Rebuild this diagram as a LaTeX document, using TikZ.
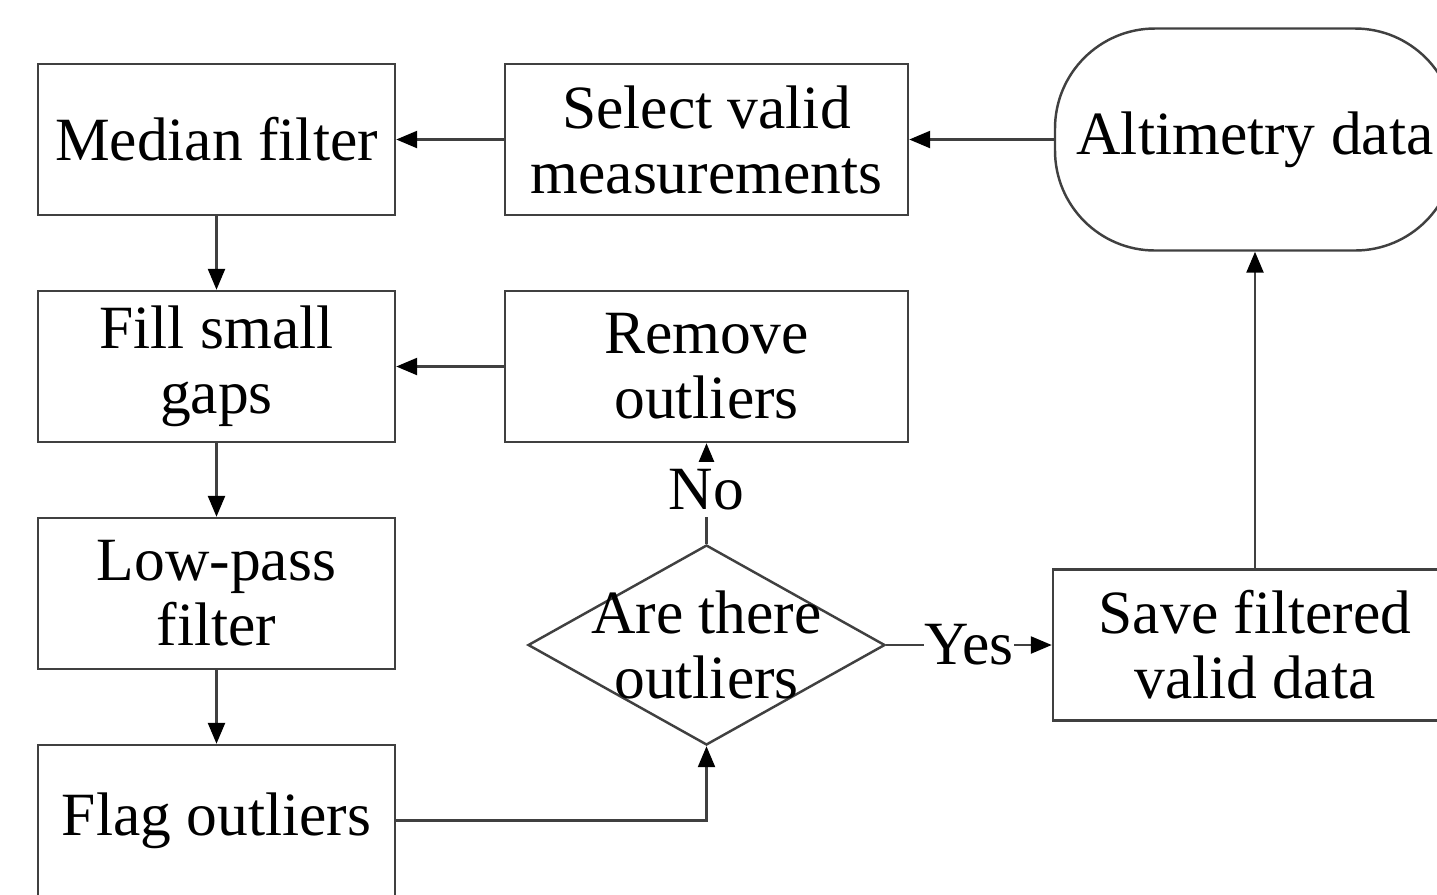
\documentclass[tikz,border=0pt]{standalone}
\usepackage{fontspec}
\setmainfont{Liberation Serif}
\usetikzlibrary{shapes.geometric}
\usetikzlibrary{arrows.meta}

\tikzset{
  txt/.style={align=center, font=\fontsize{17.5}{18.5}\selectfont},
  box/.style={txt, draw=black!75, line width=0.7pt, minimum width=3.57cm, minimum height=1.51cm, inner sep=0pt},
  terminal/.style={box, rounded corners=1cm, minimum width=4cm, minimum height=2.22cm},
  decision/.style={draw=black!75, line width=0.7pt, diamond, aspect=1.785, minimum width=3.57cm, minimum height=2cm, inner sep=0pt},
  arr/.style={draw=black!75, line width=0.7pt, -{Triangle[length=0.21cm, width=0.17cm, black]}},
  lbl/.style={txt, fill=white, inner xsep=0pt, inner ysep=2pt}
}

\begin{document}
\begin{tikzpicture}
\useasboundingbox (0,0) rectangle (14.37,-8.94);
\clip (0,0) rectangle (14.37,-8.94);

% top row
\node[box] (median) at (2.165,-1.395) {Median filter};
\node[box, minimum width=4.03cm] (select) at (7.065,-1.395) {Select valid\\measurements};
\node[terminal] (alti) at (12.55,-1.395) {Altimetry data};

% middle rows
\node[box] (fill) at (2.165,-3.665) {Fill small\\gaps};
\node[box, minimum width=4.03cm] (remove) at (7.065,-3.665) {Remove\\outliers};
\node[box] (lowpass) at (2.165,-5.935) {Low-pass\\filter};
\node[decision, label={[txt]center:Are there\\outliers}] (ask) at (7.065,-6.45) {};
\node[box, minimum width=4.04cm] (save) at (12.55,-6.45) {Save filtered\\valid data};
\node[box] (flag) at (2.165,-8.205) {Flag outliers};

\draw[arr] (alti) -- (select);
\draw[arr] (select) -- (median);
\draw[arr] (median) -- (fill);
\draw[arr] (remove) -- (fill);
\draw[arr] (fill) -- (lowpass);
\draw[arr] (lowpass) -- (flag);
\draw[arr] (flag.east) -| (ask.south);
\draw[arr] (ask) -- node[lbl, pos=0.54] {No} (remove);
\draw[arr] (ask) -- node[lbl] {Yes} (save);
\draw[arr] (save) -- (alti);
\end{tikzpicture}
\end{document}
